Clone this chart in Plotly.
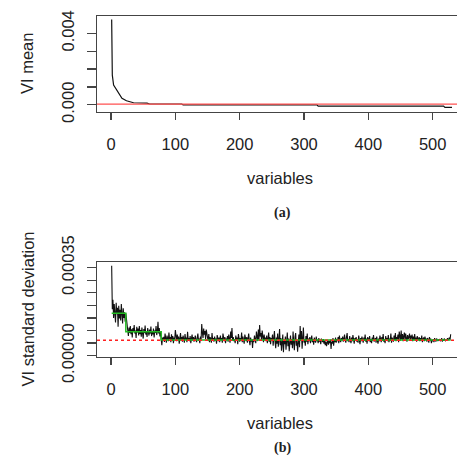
import plotly.graph_objects as go

W, H = 457, 456

# ---- Panel (a): VI mean (polyline) ----
mean_x = [1, 2, 4, 9, 17, 24, 35, 56, 60, 110, 112, 320, 322, 517, 519, 530]
mean_y = [0.00478, 0.00166, 0.00110, 0.00082, 0.00036, 0.00022, 0.00011, 0.00009,
          0.00004, 0.00004, -0.00001, -0.00001, -0.00008, -0.00008, -0.00015, -0.00015]
mean_ref = 0.00003

# ---- Panel (b): VI standard deviation, values in 1e-6 ----
sd_u = [
    357, 185, 222, 150, 205, 178, 132, 210, 165, 190, 115, 198, 148, 182, 140, 205, 160, 128, 188, 150,
    172, 135, 168, 142,
    120, 98, 78, 112, 90, 118, 85, 105, 72, 110, 95, 122, 88, 100, 70, 115, 92, 108, 80, 118,
    86, 102, 75, 112, 95, 68, 106, 90, 120, 84, 98, 74, 110, 92, 80, 104, 88, 116, 78, 96,
    85, 108, 72, 100, 90, 118, 82, 95, 135, 88, 110, 76, 98, 65, 42, 72,
    62, 75, 55, 88, 68, 52, 80, 70, 58, 92,
    66, 74, 54, 85, 60, 78, 50, 72, 64, 102,
    70, 58, 84, 62, 76, 48, 68, 90, 60, 74,
    56, 80, 66, 52, 86, 64, 72, 54, 95, 62,
    70, 58, 78, 50, 68, 84, 60, 74, 56, 66,
    80, 62, 54, 72, 88, 60, 68, 50, 76, 64,
    126, 92, 70, 108, 84, 98, 66, 104, 80, 72,
    60, 86, 54, 74, 66, 52, 90, 62, 70, 56,
    76, 60, 68, 48, 82, 64, 58, 72, 54, 80,
    62, 70, 52, 88, 66, 58, 74, 50, 68, 62,
    78, 56, 84, 64, 52, 96, 70, 110, 60, 74,
    58, 66, 50, 80, 62, 72, 46, 86, 64, 56,
    70, 60, 92, 54, 76, 62, 48, 84, 66, 58,
    74, 52, 68, 88, 60, 42, 72, 56, 64, 31,
    66, 54, 80, 62, 50, 96, 70, 58, 104, 64,
    122, 76, 90, 60, 100, 68, 54, 84, 62, 72,
    58, 80, 50, 66, 92, 56, 74, 46, 70, 62,
    84, 40, 66, 98, 54, 30, 72, 48, 88, 36,
    64, 106, 42, 70, 20, 58, 84, 14, 62, 46,
    76, 24, 60, 92, 38, 68, 18, 56, 80, 44,
    66, 30, 96, 52, 22, 74, 90, 40, 62, 16,
    58, 84, 34, 118, 60, 98, 28, 70, 112, 52,
    64, 40, 78, 56, 88, 46, 68, 58, 74, 50,
    62, 80, 54, 66, 44, 72, 60, 52, 76, 58,
    64, 50, 70, 56, 62, 46, 68, 58, 54, 66,
    48, 60, 42, 56, 38, 52, 62, 44, 58, 50,
    64, 27, 56, 48, 70, 40, 62, 54, 72, 52,
    66, 58, 74, 50, 80, 60, 54, 70, 62, 76,
    56, 68, 84, 60, 52, 74, 90, 58, 66, 54,
    78, 62, 50, 72, 58, 82, 64, 48, 70, 60,
    74, 56, 66, 52, 80, 62, 46, 70, 58, 76,
    64, 52, 72, 60, 84, 56, 68, 48, 74, 62,
    58, 78, 54, 66, 50, 72, 60, 82, 56, 64,
    70, 52, 76, 60, 48, 68, 58, 80, 62, 54,
    74, 60, 86, 56, 66, 50, 78, 62, 70, 58,
    82, 54, 68, 60, 88, 52, 72, 64, 56, 80,
    62, 90, 58, 74, 66, 84, 54, 96, 70, 60,
    100, 64, 86, 58, 78, 92, 62, 88, 70, 56,
    82, 66, 74, 88, 60, 80, 68, 84, 58, 76,
    64, 86, 60, 72, 56, 78, 66, 62, 74, 58,
    70, 60, 80, 54, 66, 72, 58, 76, 62, 68,
    56, 70, 64, 52, 74, 60, 68, 50, 62, 58,
    66, 54, 70, 60, 56, 68, 62, 58, 64, 60,
    66, 58, 62, 70, 56, 64, 60, 68, 62, 58,
    64, 60, 70, 62, 66, 72, 64, 85,
]
sd_y = [v * 1e-6 for v in sd_u]
sd_x = list(range(1, len(sd_y) + 1))

step_x = [1, 23, 78, len(sd_y)]
step_y = [169e-6, 95e-6, 62e-6, 62e-6]
sd_ref = 61e-6

x_ticks = [0, 100, 200, 300, 400, 500]
y1_ticks = [0, 0.001, 0.002, 0.003, 0.004]
y1_text = ["0.000", "", "", "", "0.004"]
y2_ticks = [0, 5e-5, 10e-5, 15e-5, 20e-5, 25e-5, 30e-5, 35e-5]
y2_text = ["0.00000", "", "", "", "", "", "", "0.00035"]

FONT = "Liberation Sans, Arial, sans-serif"
AX = "#444444"
TXT = "#222222"

def px_x(p):
    return p / W

def px_y(p):
    return (H - p) / H

fig = go.Figure()
fig.add_trace(go.Scatter(x=mean_x, y=mean_y, mode="lines",
                         line=dict(color="#111111", width=1.2),
                         xaxis="x", yaxis="y", showlegend=False))
fig.add_trace(go.Scatter(x=sd_x, y=sd_y, mode="lines",
                         line=dict(color="#111111", width=1.1),
                         xaxis="x2", yaxis="y2", showlegend=False))
fig.add_trace(go.Scatter(x=step_x, y=step_y, mode="lines", line_shape="hv",
                         line=dict(color="#22bb22", width=1.5),
                         xaxis="x2", yaxis="y2", showlegend=False))

xr = [-21.8, 537.8]
common_x = dict(range=xr, tickvals=x_ticks, ticks="outside", ticklen=7, tickwidth=1.3,
                tickcolor=AX, showline=True, linecolor=AX, linewidth=1.5, mirror=True,
                showgrid=False, zeroline=False, automargin=False, ticklabeloverflow="allow",
                tickfont=dict(family=FONT, size=16.5, color=TXT), ticklabelstandoff=10)
common_y = dict(ticks="outside", ticklen=9, tickwidth=1.3, tickcolor=AX,
                showline=True, linecolor=AX, linewidth=1.5, mirror=False,
                showgrid=False, zeroline=False, tickangle=-90, automargin=False,
                tickfont=dict(family=FONT, size=16.5, color=TXT), ticklabelstandoff=6)

dx = [px_x(97), 1.0]
fig.update_layout(
    width=W, height=H, margin=dict(l=0, r=0, t=0, b=0, autoexpand=False),
    paper_bgcolor="white", plot_bgcolor="white", hovermode=False,
    xaxis=dict(domain=dx, anchor="y", **common_x),
    yaxis=dict(domain=[px_y(111.7), px_y(16)], anchor="x", range=[-0.00039, 0.00497],
               tickvals=y1_ticks, ticktext=y1_text, **common_y),
    xaxis2=dict(domain=dx, anchor="y2", **common_x),
    yaxis2=dict(domain=[px_y(356.7), px_y(262.3)], anchor="x2", range=[-0.000004, 0.000371],
                tickvals=y2_ticks, ticktext=y2_text, **common_y),
)

fig.add_shape(type="line", xref="x domain", yref="y", x0=0, x1=1, y0=mean_ref, y1=mean_ref,
              line=dict(color="#ff5050", width=1.3))
fig.add_shape(type="line", xref="x2 domain", yref="y2", x0=0, x1=1, y0=sd_ref, y1=sd_ref,
              line=dict(color="#ff2020", width=1.5, dash="dot"))

def ann(text, x, y, size, angle=0, family=FONT, bold=False):
    fig.add_annotation(text=f"<b>{text}</b>" if bold else text, x=px_x(x), y=px_y(y),
                       xref="paper", yref="paper", showarrow=False, textangle=angle,
                       xanchor="center", yanchor="middle",
                       font=dict(family=family, size=size, color=TXT))

ann("variables", 280, 178, 16.5)
ann("(a)", 282, 213, 14, family="Liberation Serif, Times New Roman, serif", bold=True)
ann("VI mean", 27, 64, 16.5, angle=-90)
ann("variables", 280, 423, 16.5)
ann("(b)", 282, 448, 14, family="Liberation Serif, Times New Roman, serif", bold=True)
ann("VI standard deviation", 27, 309.5, 16.5, angle=-90)

fig.write_html(
    "out.html",
    config={"displayModeBar": False, "staticPlot": True},
    post_script="document.body.style.margin='0';document.body.style.overflow='hidden';",
)
